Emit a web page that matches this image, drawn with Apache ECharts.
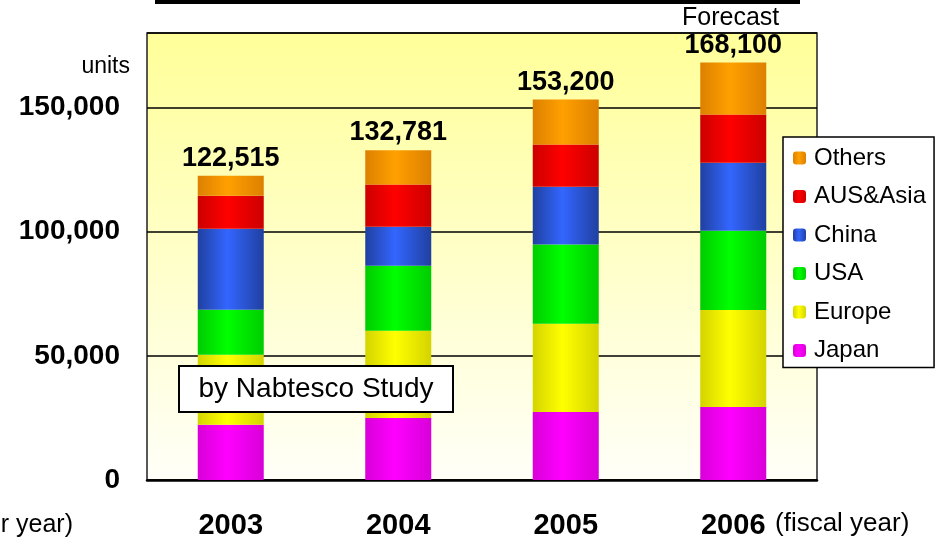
<!DOCTYPE html>
<html>
<head>
<meta charset="utf-8">
<script src="https://cdn.jsdelivr.net/npm/echarts@6/dist/echarts.min.js"></script>
<style>
  html, body { margin: 0; padding: 0; background: #fff; }
  #chart { width: 938px; height: 545px; }
</style>
</head>
<body>
<div id="chart"></div>
<script>
const years = ['2003', '2004', '2005', '2006']
const regions = ['Japan', 'Europe', 'USA', 'China', 'AUS&Asia', 'Others']
const japan = [22200, 25000, 27400, 29400]
const europe = [28200, 35100, 35500, 39100]
const usa = [18150, 26200, 31900, 31900]
const china = [32650, 15700, 23300, 27400]
const ausAsia = [13300, 17000, 17000, 19400]
const others = [8015, 13781, 18100, 20900]
const totals = [122515, 132781, 153200, 168100]
const yTicks = [0, 50000, 100000, 150000]

const values = [japan, europe, usa, china, ausAsia, others]

// edge / centre colours for the cylinder-ish shading
const shades = {
  'Japan': ['#d800d8', '#ff00ff'],
  'Europe': ['#d4d400', '#ffff00'],
  'USA': ['#00cc00', '#00ff00'],
  'China': ['#2040a0', '#3366ff'],
  'AUS&Asia': ['#cc0000', '#ff0000'],
  'Others': ['#dd8000', '#ffa000']
}

const shade = (name) => new echarts.graphic.LinearGradient(0, 0, 1, 0, [
  { offset: 0, color: shades[name][0] },
  { offset: 0.45, color: shades[name][1] },
  { offset: 1, color: shades[name][0] }
])

const fmt = v => v.toLocaleString('en-US')

const series = regions.map((name, i) => ({
  name,
  type: 'bar',
  stack: 'total',
  barWidth: 66,
  itemStyle: { color: shade(name) },
  label: name === 'Others' ? {
    show: true,
    position: 'top',
    distance: 4,
    color: '#000',
    fontFamily: 'Liberation Sans',
    fontWeight: 'bold',
    fontSize: 27,
    formatter: p => fmt(totals[p.dataIndex])
  } : { show: false },
  data: values[i]
}))

const chart = echarts.init(document.getElementById('chart'))

chart.setOption({
  animation: false,
  textStyle: { fontFamily: 'Liberation Sans', color: '#000' },
  grid: {
    left: 147,
    right: 121,
    top: 33,
    bottom: 65,
    show: true,
    borderColor: '#222',
    borderWidth: 1.5,
    backgroundColor: new echarts.graphic.LinearGradient(0, 0, 0, 1, [
      { offset: 0, color: '#ffff99' },
      { offset: 1, color: '#fffff8' }
    ])
  },
  legend: {
    orient: 'vertical',
    left: 783,
    top: 137,
    data: ['Others', 'AUS&Asia', 'China', 'USA', 'Europe', 'Japan'],
    itemWidth: 13,
    itemHeight: 13,
    itemGap: 12.5,
    padding: [8, 8, 4, 10],
    backgroundColor: '#fff',
    borderColor: '#000',
    borderWidth: 1.5,
    borderRadius: 0,
    textStyle: { fontSize: 24, lineHeight: 26, color: '#000', fontFamily: 'Liberation Sans', padding: [0, 0, 0, 3] }
  },
  xAxis: {
    type: 'category',
    data: years,
    axisLine: { lineStyle: { color: '#000', width: 2.5 } },
    axisTick: { inside: true, length: 9, lineStyle: { color: '#000', width: 1.5 } },
    axisLabel: {
      margin: 31,
      fontSize: 29,
      fontWeight: 'bold',
      color: '#000',
      fontFamily: 'Liberation Sans'
    }
  },
  yAxis: {
    type: 'value',
    min: 0,
    max: 180000,
    interval: 50000,
    axisLine: { show: false },
    axisTick: { show: false },
    splitLine: { lineStyle: { color: '#000', width: 1.5 } },
    axisLabel: {
      margin: 27,
      fontSize: 28,
      fontWeight: 'bold',
      color: '#000',
      fontFamily: 'Liberation Sans',
      showMaxLabel: false,
      formatter: v => yTicks.includes(v) ? fmt(v) : ''
    }
  },
  graphic: [
    { type: 'rect', shape: { x: 155, y: 0, width: 645, height: 4 }, style: { fill: '#000' } },
    {
      type: 'text', left: 682, top: 6,
      style: { text: 'Forecast', fontSize: 25, fontFamily: 'Liberation Sans', fill: '#000' }
    },
    {
      type: 'text', right: 808, top: 55,
      style: { text: 'units', fontSize: 23, fontFamily: 'Liberation Sans', fill: '#000' }
    },
    {
      type: 'text', left: 775, top: 511,
      style: { text: '(fiscal year)', fontSize: 26, fontFamily: 'Liberation Sans', fill: '#000' }
    },
    {
      type: 'text', right: 865, top: 513,
      style: { text: 'r year)', fontSize: 25, fontFamily: 'Liberation Sans', fill: '#000' }
    },
    {
      type: 'rect', z: 100, shape: { x: 179, y: 366, width: 274, height: 46 },
      style: { fill: '#fff', stroke: '#000', lineWidth: 2 }
    },
    {
      type: 'text', z: 101, x: 316, y: 389,
      style: {
        text: 'by Nabtesco Study', fontSize: 28, fontFamily: 'Liberation Sans',
        fill: '#000', align: 'center', verticalAlign: 'middle'
      }
    }
  ],
  series
})
</script>
</body>
</html>
